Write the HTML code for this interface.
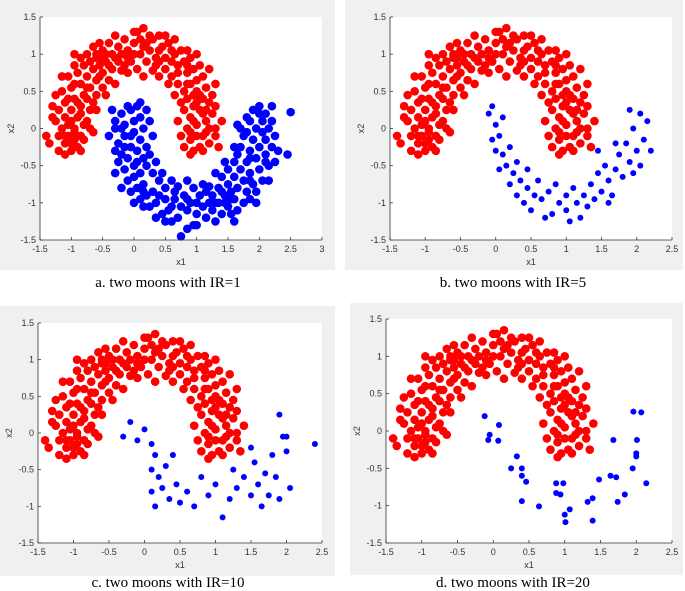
<!DOCTYPE html>
<html><head><meta charset="utf-8"><style>
body{margin:0;background:#fff;width:685px;height:591px;overflow:hidden}
svg{display:block}
text{font-family:"Liberation Sans",sans-serif}
.cap{font-family:"Liberation Serif",serif;font-size:15px;fill:#000}
</style></head><body>
<svg id="s" width="685" height="591"></svg>
<script>
const redMoon=[-1.2,-0.3,-1.1,-0.2,-1.0,-0.3,-0.9,-0.25,-0.85,-0.1,-1.15,0.0,-1.05,0.05,-0.95,0.0,-0.8,0.05,-1.25,0.1,-1.1,0.15,-0.9,0.15,-0.75,0.1,-1.2,0.25,-1.0,0.25,-0.85,0.3,-0.7,0.25,-1.3,0.3,-1.1,0.35,-0.95,0.4,-0.8,0.45,-0.65,0.35,-1.15,0.5,-1.0,0.55,-0.85,0.6,-0.7,0.55,-0.6,0.45,-1.05,0.7,-0.9,0.75,-0.75,0.7,-0.6,0.65,-0.5,0.55,-0.95,0.85,-0.8,0.85,-0.65,0.8,-0.5,0.75,-0.4,0.65,-0.75,1.0,-0.6,0.95,-0.45,0.9,-0.35,0.8,-0.65,1.1,-0.5,1.05,-0.35,1.0,-0.25,0.9,-0.2,0.78,-0.4,1.15,-0.25,1.1,-0.1,1.05,-0.05,0.9,0.05,0.8,-0.15,1.2,0.0,1.15,0.1,1.0,0.2,0.9,0.05,1.3,0.15,1.1,0.25,1.05,0.35,0.95,0.3,0.78,0.3,1.2,0.45,1.1,0.5,0.95,0.5,0.8,0.55,1.15,0.65,1.0,0.7,0.85,0.6,0.7,0.75,1.05,0.8,0.9,0.85,0.75,0.7,0.6,0.9,0.95,0.95,0.8,1.0,0.65,0.8,0.5,1.05,0.85,1.1,0.7,1.0,0.5,0.85,0.4,1.15,0.55,1.1,0.4,0.95,0.3,0.8,0.25,1.2,0.35,1.05,0.25,0.9,0.15,1.25,0.2,1.15,0.1,1.0,0.05,0.85,0.0,1.3,0.0,1.15,-0.05,1.0,-0.1,0.9,-0.15,1.2,-0.2,1.05,-0.25,0.95,-0.3,1.3,-0.1,0.75,-0.1,-1.0,0.1,-0.9,0.35,-0.75,0.55,-0.55,0.85,-0.3,0.95,-0.1,0.95,0.1,1.2,0.4,0.9,0.6,0.9,0.9,0.6,1.05,0.45,0.95,0.1,1.1,-0.1,-1.05,-0.1,-0.95,-0.15,-1.35,-0.2,-0.7,0.9,-0.2,1.0,0.25,1.25,0.7,0.75,-1.05,0.4,-0.95,0.6,-0.6,1.0,0.2,1.15,0.6,1.05,1.0,0.35,0.9,-0.05,-1.1,-0.1,-0.85,0.2,-0.55,0.7,0.0,1.0,0.4,1.05,0.85,0.6,1.1,0.2,
-1.2,-0.1,-1.0,-0.2,-0.8,-0.15,-1.25,0.45,-1.15,0.7,-0.95,1.0,-0.85,0.95,-0.55,1.15,-0.3,1.25,-0.45,1.0,0.15,1.35,0.4,1.25,0.65,1.2,0.85,1.05,1.0,1.0,1.2,0.8,1.3,0.6,1.25,0.45,1.3,0.3,1.4,0.1,1.35,-0.25,1.1,-0.3,0.8,-0.25,0.7,0.1,0.75,0.35,-0.6,0.25,-0.7,0.0,-0.65,-0.05,-0.45,0.45,-0.3,0.6,-0.1,0.75,0.15,0.7,0.4,0.7,0.55,0.6,0.65,0.45,-0.15,0.85,0.35,0.85,-0.4,0.85,0.85,0.85,1.15,0.25,-1.3,0.15,-1.4,-0.1,-0.75,0.4,-0.95,-0.05,-0.55,0.95,0.0,1.3,0.5,1.25,0.95,0.45,1.2,0.0,0.9,-0.35,-1.1,-0.35,-0.85,-0.3];
const blueA=[2.2,0.3,2.1,0.2,2.0,0.3,1.9,0.25,1.85,0.1,2.15,0.0,2.05,-0.05,1.95,0.0,1.8,-0.05,2.25,-0.1,2.1,-0.15,1.9,-0.15,1.75,-0.1,2.2,-0.25,2.0,-0.25,1.85,-0.3,1.7,-0.25,2.3,-0.3,2.1,-0.35,1.95,-0.4,1.8,-0.45,1.65,-0.35,2.15,-0.5,2.0,-0.55,1.85,-0.6,1.7,-0.55,1.6,-0.45,2.05,-0.7,1.9,-0.75,1.75,-0.7,1.6,-0.65,1.5,-0.55,1.95,-0.85,1.8,-0.85,1.65,-0.8,1.5,-0.75,1.4,-0.65,1.75,-1.0,1.6,-0.95,1.45,-0.9,1.35,-0.8,1.65,-1.1,1.5,-1.05,1.35,-1.0,1.25,-0.9,1.2,-0.78,1.4,-1.15,1.25,-1.1,1.1,-1.05,1.05,-0.9,0.95,-0.8,1.15,-1.2,1.0,-1.15,0.9,-1.0,0.8,-0.9,0.95,-1.3,0.85,-1.1,0.75,-1.05,0.65,-0.95,0.7,-0.78,0.7,-1.2,0.55,-1.1,0.5,-0.95,0.5,-0.8,0.45,-1.15,0.35,-1.0,0.3,-0.85,0.4,-0.7,0.25,-1.05,0.2,-0.9,0.15,-0.75,0.3,-0.6,0.1,-0.95,0.05,-0.8,0.0,-0.65,0.2,-0.5,-0.05,-0.85,-0.1,-0.7,0.0,-0.5,0.15,-0.4,-0.15,-0.55,-0.1,-0.4,0.05,-0.3,0.2,-0.25,-0.2,-0.35,-0.05,-0.25,0.1,-0.15,-0.25,-0.2,-0.15,-0.1,0.0,-0.05,0.15,0.0,-0.3,0.0,-0.15,0.05,0.0,0.1,0.1,0.15,-0.2,0.2,-0.05,0.25,0.05,0.3,-0.3,0.1,0.25,0.1,2.5,0.22,2.45,-0.35,0.75,-1.45,1.6,-1.25,1.0,-1.0,1.3,-1.0,0.6,-1.05,1.55,-0.85,1.85,-0.4,2.05,0.1,0.1,-0.6,-0.05,-0.1,0.4,-0.9,1.2,-1.0,0.85,-0.95,
2.2,0.1,2.0,0.2,1.8,0.15,2.25,-0.45,2.15,-0.7,1.95,-1.0,1.85,-0.95,1.55,-1.15,1.3,-1.25,1.45,-1.0,0.85,-1.35,0.6,-1.25,0.35,-1.2,0.15,-1.05,0.0,-1.0,-0.2,-0.8,-0.3,-0.6,-0.25,-0.45,-0.3,-0.3,-0.4,-0.1,-0.35,0.25,-0.1,0.3,0.2,0.25,0.3,-0.1,0.25,-0.35,1.6,-0.25,1.7,0.0,1.65,0.05,1.45,-0.45,1.3,-0.6,1.1,-0.75,0.85,-0.7,0.6,-0.7,0.45,-0.6,0.35,-0.45,1.15,-0.85,0.65,-0.85,1.4,-0.85,0.15,-0.85,-0.15,-0.25,1.55,-0.95,1.0,-1.3,0.5,-1.25,0.05,-0.45,-0.2,0.0,0.1,0.35,2.1,-0.45,1.85,-0.7];
const blueB=[-0.1,0.2,0.0,0.05,0.1,0.15,-0.05,-0.15,0.05,-0.1,0.0,-0.3,0.1,-0.35,0.2,-0.25,0.05,-0.55,0.15,-0.5,0.25,-0.6,0.2,-0.75,0.35,-0.7,0.3,-0.9,0.45,-0.8,0.4,-1.0,0.55,-0.9,0.5,-1.1,0.65,-0.95,0.6,-0.7,0.75,-0.85,0.8,-1.15,0.9,-1.0,0.85,-0.75,1.0,-0.9,1.0,-1.1,1.1,-0.8,1.15,-1.0,1.2,-1.2,1.25,-0.9,1.3,-1.05,1.35,-0.75,1.4,-0.95,1.45,-0.6,1.5,-0.85,1.55,-0.5,1.6,-0.7,1.65,-0.9,1.7,-0.55,1.75,-0.35,1.8,-0.65,1.85,-0.2,1.9,-0.45,1.95,0.0,2.0,-0.3,2.05,0.2,2.1,-0.15,2.15,0.1,2.2,-0.3,1.9,0.25,1.95,-0.6,2.05,-0.5,1.7,-0.2,0.3,-0.45,0.7,-1.2,1.05,-1.25,1.6,-1.0,0.45,-0.55,-0.05,0.3,1.45,-0.3];
const blueC=[-0.3,-0.05,-0.2,0.15,-0.1,-0.1,0.0,0.05,0.1,-0.15,0.15,-0.3,0.1,-0.5,0.2,-0.6,0.3,-0.45,0.25,-0.75,0.1,-0.8,0.35,-0.9,0.15,-1.0,0.45,-0.7,0.5,-0.95,0.6,-0.8,0.7,-1.0,0.8,-0.6,0.9,-0.85,1.0,-0.7,1.1,-1.15,1.2,-0.9,1.25,-0.5,1.3,-0.75,1.4,-0.6,1.5,-0.85,1.55,-0.4,1.6,-0.7,1.7,-0.55,1.75,-0.85,1.8,-0.3,1.85,-0.6,1.9,0.25,1.95,-0.05,2.0,-0.25,2.05,-0.75,1.9,-0.9,2.4,-0.15,1.5,-0.2,0.4,-0.3,1.65,-1.0,2.0,-0.05];
const blueD=[-0.12,0.2,-0.05,-0.05,0.08,0.08,-0.07,-0.12,0.07,-0.13,0.33,-0.34,0.25,-0.5,0.4,-0.5,0.4,-0.6,0.46,-0.68,0.4,-0.94,0.64,-1.01,0.88,-0.7,0.98,-0.7,0.88,-0.83,0.94,-0.85,1.0,-1.12,1.07,-1.05,1.01,-1.22,1.32,-0.95,1.39,-0.9,1.39,-1.2,1.48,-0.65,1.64,-0.6,1.68,-0.12,1.72,-0.62,1.74,-0.95,1.84,-0.85,1.95,-0.5,1.96,0.26,2.07,0.25,2.01,-0.12,2.0,-0.3,2.0,-0.34,2.14,-0.7];
const xTicksA=[-1.5,-1,-0.5,0,0.5,1,1.5,2,2.5,3];
const xTicksB=[-1.5,-1,-0.5,0,0.5,1,1.5,2,2.5];
const yTicks=[-1.5,-1,-0.5,0,0.5,1,1.5];
const panels=[
 {id:'a',bg:[0,0,335,270],ax:[40,17,322,240],xmax:3,xt:xTicksA,blue:blueA,cap:'a. two moons with IR=1',cy:287,cx:168},
 {id:'b',bg:[345,0,338,270],ax:[390,17,672,240],xmax:2.5,xt:xTicksB,blue:blueB,cap:'b. two moons with IR=5',cy:287,cx:513},
 {id:'c',bg:[0,306,335,270],ax:[38,323,322,543],xmax:2.5,xt:xTicksB,blue:blueC,cap:'c. two moons with IR=10',cy:587,cx:168},
 {id:'d',bg:[350,303,333,272],ax:[386,319,672,543],xmax:2.5,xt:xTicksB,blue:blueD,cap:'d. two moons with IR=20',cy:587,cx:513}
];
const NS='http://www.w3.org/2000/svg',S=document.getElementById('s');
function mk(t,a,p){const e=document.createElementNS(NS,t);for(const k in a)e.setAttribute(k,a[k]);(p||S).appendChild(e);return e;}
function fmt(v){return String(v);}
panels.forEach(P=>{
 const g=mk('g',{});
 
 
 const bg=mk('rect',{x:P.bg[0],y:P.bg[1],width:P.bg[2],height:P.bg[3],fill:'#f0f0f0'},g);
 
 
 const [L,T,R,B]=P.ax;
 const sx=v=>L+(v+1.5)/(P.xmax+1.5)*(R-L);
 const sy=v=>B-(v+1.5)/3*(B-T);
 const pl=mk('rect',{x:L,y:T,width:R-L,height:B-T,fill:'#fff'},g);
 
 
 for(let i=0;i<redMoon.length;i+=2){
  const c=mk('circle',{cx:sx(redMoon[i]),cy:sy(redMoon[i+1]),r:4.3,fill:'#ff0000'},g);
  
  
 }
 for(let i=0;i<P.blue.length;i+=2){
  const c=mk('circle',{cx:sx(P.blue[i]),cy:sy(P.blue[i+1]),r:P.id==='a'?4.3:3,fill:'#0000ff'},g);
  
  
 }
 mk('line',{x1:L,y1:B,x2:R,y2:B,stroke:'#333','stroke-width':0.8},g);
 mk('line',{x1:L,y1:T,x2:L,y2:B,stroke:'#333','stroke-width':0.8},g);
 P.xt.forEach(v=>{
  mk('line',{x1:sx(v),y1:B,x2:sx(v),y2:B-3,stroke:'#333','stroke-width':0.8},g);
  const t=mk('text',{x:sx(v),y:B+12,'font-size':9,'text-anchor':'middle',fill:'#333'},g);
  t.textContent=fmt(v);
  
  
 });
 yTicks.forEach(v=>{
  mk('line',{x1:L,y1:sy(v),x2:L+3,y2:sy(v),stroke:'#333','stroke-width':0.8},g);
  const t=mk('text',{x:L-4,y:sy(v)+3,'font-size':9,'text-anchor':'end',fill:'#333'},g);
  t.textContent=fmt(v);
  
  
 });
 const xl=mk('text',{x:(L+R)/2,y:B+25,'font-size':9,'text-anchor':'middle',fill:'#333'},g);
 xl.textContent='x1';
 
 
 const yl=mk('text',{x:0,y:0,'font-size':9,'text-anchor':'middle',fill:'#333',transform:`translate(${L-26},${(T+B)/2}) rotate(-90)`},g);
 yl.textContent='x2';
 
 
 const cp=mk('text',{x:P.cx,y:P.cy,'text-anchor':'middle',class:'cap'},g);
 cp.textContent=P.cap;
 
 
});
</script>
</body></html>
